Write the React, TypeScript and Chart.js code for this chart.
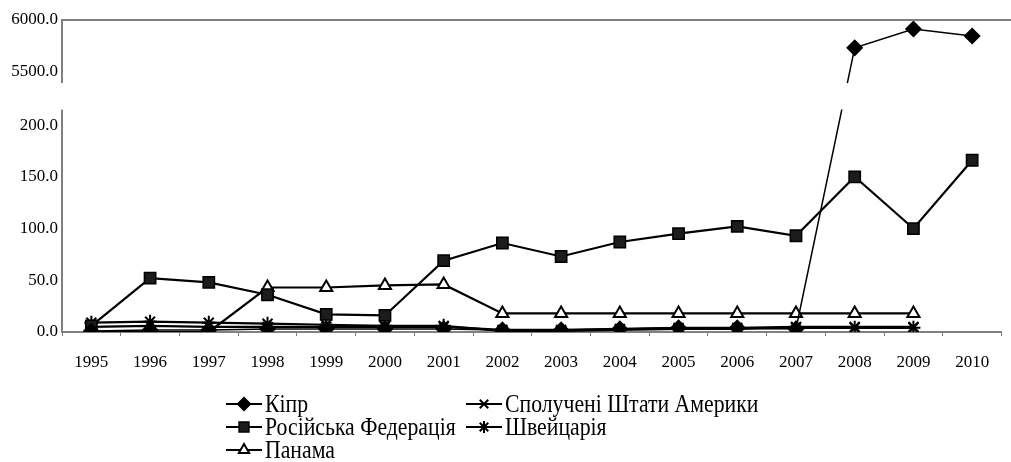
import React, { useEffect, useRef } from 'react';
import { Chart, registerables, LinearScale } from 'chart.js';
import { drawPoint } from 'chart.js/helpers';

Chart.register(...registerables);

// ---------- data ----------
const years = ['1995', '1996', '1997', '1998', '1999', '2000', '2001', '2002', '2003', '2004', '2005', '2006', '2007', '2008', '2009', '2010'];
const cyprus = [1, 2, 2, 3, 3, 3, 3, 2, 2, 3, 4, 4, 3, 5731, 5913, 5846];
const russia = [6, 52, 48, 36, 17, 16, 69, 86, 73, 87, 95, 102, 93, 150, 100, 166];
const panama = [0, 0, 0, 43, 43, 45, 46, 18, 18, 18, 18, 18, 18, 18, 18, null];
const usa = [5, 6, 5, 5, 5, 5, 5, 2, 2, 3, 4, 4, 5, 5, 5, null];
const swiss = [9, 10, 9, 8, 7, 6, 6, 1, 1, 2, 3, 3, 4, 4, 4, null];
const seriesNames = ['Кіпр', 'Російська Федерація', 'Панама', 'Сполучені Штати Америки', 'Швейцарія'];
const yTickValues = [0, 50, 100, 150, 200, 5500, 6000];
const lowerRange = [0, 215];
const upperRange = [5400, 6000];

// ---------- broken axis geometry ----------
const LOWER_END = 0.713; // fraction of plot height where lower panel ends
const UPPER_START = 0.801; // fraction of plot height where upper panel starts

function valueToFrac(v: number): number {
  const [l0, l1] = lowerRange;
  const [u0, u1] = upperRange;
  if (v <= l1) return ((v - l0) / (l1 - l0)) * LOWER_END;
  if (v >= u0) return UPPER_START + ((v - u0) / (u1 - u0)) * (1 - UPPER_START);
  return LOWER_END + ((v - l1) / (u0 - l1)) * (UPPER_START - LOWER_END);
}
function fracToValue(f: number): number {
  const [l0, l1] = lowerRange;
  const [u0, u1] = upperRange;
  if (f <= LOWER_END) return l0 + (f / LOWER_END) * (l1 - l0);
  if (f >= UPPER_START) return u0 + ((f - UPPER_START) / (1 - UPPER_START)) * (u1 - u0);
  return l1 + ((f - LOWER_END) / (UPPER_START - LOWER_END)) * (u0 - l1);
}

class BrokenLinearScale extends LinearScale {
  static id = 'brokenLinear';
  static defaults = {};
  getPixelForValue(value: any) {
    if (value === null || value === undefined || isNaN(+value)) return NaN;
    return this.bottom - valueToFrac(+value) * (this.bottom - this.top);
  }
  getValueForPixel(pixel: number) {
    return fracToValue((this.bottom - pixel) / (this.bottom - this.top));
  }
}
Chart.register(BrokenLinearScale as any);

const FONT = 'Liberation Serif';
const AXIS_GRAY = '#808080';

const styles = [
  { pointStyle: 'rectRot', radius: 7.5, bg: '#000', bw: 1.5, lw: 1.5 },
  { pointStyle: 'rect', radius: 8, bg: '#1c1c1c', bw: 1.5, lw: 2.2 },
  { pointStyle: 'triangle', radius: 7, bg: '#fff', bw: 2, lw: 2.2 },
  { pointStyle: 'crossRot', radius: 7, bg: '#000', bw: 2, lw: 2.2 },
  { pointStyle: 'star', radius: 7, bg: '#000', bw: 2, lw: 2.2 },
];

const breakLegendPlugin = {
  id: 'breakLegend',
  afterDatasetsDraw(chart: any) {
    const { ctx, chartArea } = chart;
    const y = chart.scales.y;
    const gTop = y.getPixelForValue(upperRange[0]) + 1;
    const gBot = y.getPixelForValue(lowerRange[1]);
    ctx.save();
    ctx.fillStyle = '#fff';
    ctx.fillRect(chartArea.left - 4, gTop, chart.width - chartArea.left + 4, gBot - gTop);
    ctx.restore();
  },
  afterDraw(chart: any) {
    const { ctx, chartArea } = chart;
    ctx.save();
    // top border line
    ctx.strokeStyle = AXIS_GRAY;
    ctx.lineWidth = 2;
    ctx.beginPath();
    ctx.moveTo(chartArea.left - 1, chartArea.top);
    ctx.lineTo(chart.width, chartArea.top);
    ctx.stroke();

    // legend
    const cols = [226, 466];
    const rows = [404, 427, 450];
    const placement = [
      [0, 0],
      [0, 1],
      [0, 2],
      [1, 0],
      [1, 1],
    ];
    seriesNames.forEach((name, i) => {
      const [c, r] = placement[i];
      const x0 = cols[c];
      const yy = rows[r];
      const st = styles[i];
      ctx.strokeStyle = '#000';
      ctx.lineWidth = 2;
      ctx.beginPath();
      ctx.moveTo(x0, yy);
      ctx.lineTo(x0 + 36, yy);
      ctx.stroke();
      ctx.fillStyle = st.bg;
      ctx.strokeStyle = '#000';
      ctx.lineWidth = st.bw;
      drawPoint(ctx, { pointStyle: st.pointStyle, radius: st.radius - 1, borderWidth: st.bw, rotation: 0 } as any, x0 + 18, yy);
      ctx.save();
      ctx.translate(x0 + 39, yy);
      ctx.scale(0.87, 1);
      ctx.fillStyle = '#000';
      ctx.font = `25px "${FONT}"`;
      ctx.textBaseline = 'middle';
      ctx.textAlign = 'left';
      ctx.fillText(name, 0, 1);
      ctx.restore();
    });
    ctx.restore();
  },
};

export default function App() {
  const ref = useRef<HTMLCanvasElement | null>(null);
  useEffect(() => {
    if (!ref.current) return;
    const allSeries = [cyprus, russia, panama, usa, swiss];
    const chart = new Chart(ref.current, {
      type: 'line',
      data: {
        labels: years,
        datasets: allSeries.map((d, i) => ({
          label: seriesNames[i],
          data: d,
          borderColor: '#000',
          borderWidth: styles[i].lw,
          pointStyle: styles[i].pointStyle as any,
          pointRadius: styles[i].radius,
          pointBackgroundColor: styles[i].bg,
          pointBorderColor: '#000',
          pointBorderWidth: styles[i].bw,
          tension: 0,
          fill: false,
        })),
      },
      options: {
        responsive: false,
        animation: false,
        devicePixelRatio: 1,
        layout: { padding: { left: 0, right: 5, top: 20, bottom: 90 } },
        plugins: { legend: { display: false }, tooltip: { enabled: false } },
        scales: {
          x: {
            type: 'category',
            offset: true,
            grid: { display: true, drawOnChartArea: false, drawTicks: true, tickLength: 4, offset: true, color: AXIS_GRAY, lineWidth: 1 },
            border: { display: true, color: AXIS_GRAY, width: 2 },
            ticks: { color: '#000', font: { family: FONT, size: 17 }, padding: 16, maxRotation: 0, autoSkip: false },
            afterFit: (s: any) => {
              s.height = 40;
            },
          },
          y: {
            type: 'brokenLinear' as any,
            min: 0,
            max: 6000,
            afterBuildTicks: (s: any) => {
              s.ticks = yTickValues.map((value) => ({ value }));
            },
            grid: { display: false, drawTicks: false },
            border: { display: true, color: AXIS_GRAY, width: 2 },
            ticks: {
              color: '#000',
              font: { family: FONT, size: 17 },
              padding: 4,
              autoSkip: false,
              callback: (v: any) => Number(v).toFixed(1),
            },
            afterFit: (s: any) => {
              s.width = 62;
            },
          },
        },
      },
      plugins: [breakLegendPlugin],
    });
    return () => chart.destroy();
  }, []);
  return (
    <div style={{ position: 'absolute', left: 0, top: 0, width: 1011, height: 462, background: '#fff' }}>
      <canvas ref={ref} width={1011} height={462} style={{ display: 'block' }} />
    </div>
  );
}
